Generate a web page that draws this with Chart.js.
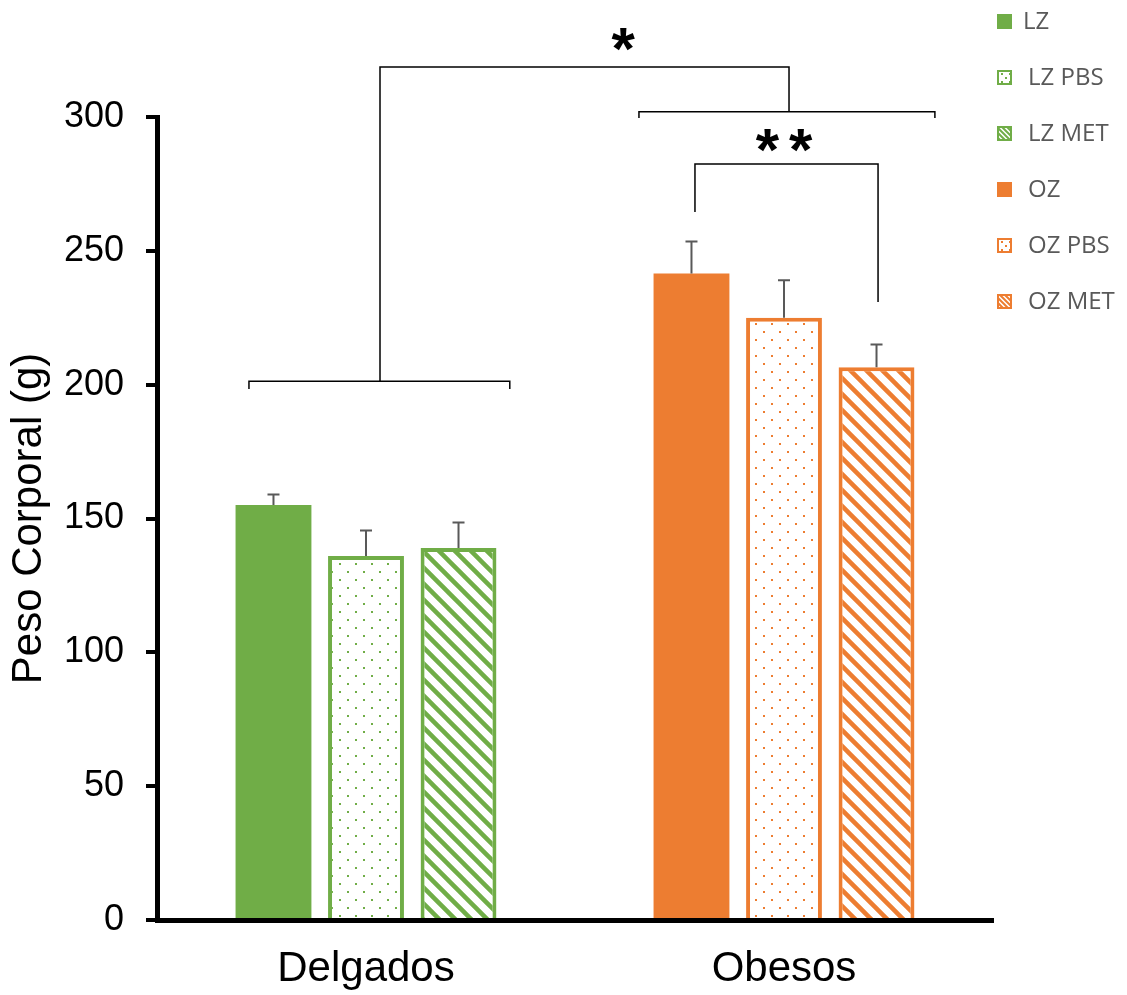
<!DOCTYPE html>
<html>
<head>
<meta charset="utf-8">
<script src="https://cdn.jsdelivr.net/npm/chart.js@4/dist/chart.umd.min.js"></script>
<style>
  html, body { margin: 0; padding: 0; background: #fff; }
  #wrap { width: 1127px; height: 995px; }
</style>
</head>
<body>
<div id="wrap"><canvas id="c" width="1127" height="995"></canvas></div>
<script>
// ---- data ----
const categories = ['Delgados', 'Obesos'];
const seriesNames = ['LZ', 'LZ PBS', 'LZ MET', 'OZ', 'OZ PBS', 'OZ MET'];
const seriesCategory = [0, 0, 0, 1, 1, 1];
const meanWeight = [155, 136, 139, 241.5, 225, 206.5];
const semWeight = [4, 9.5, 9.5, 12, 14, 8.5];
const yTickValues = [0, 50, 100, 150, 200, 250, 300];

// ---- styling ----
const GREEN = '#70AD47';
const ORANGE = '#ED7D31';
const seriesColor = [GREEN, GREEN, GREEN, ORANGE, ORANGE, ORANGE];
const seriesFill = ['solid', 'dots', 'stripes', 'solid', 'dots', 'stripes'];

function dotPattern(color, step) {
  const c = document.createElement('canvas');
  c.width = step; c.height = step;
  const g = c.getContext('2d');
  g.fillStyle = '#fff'; g.fillRect(0, 0, step, step);
  g.fillStyle = color;
  g.fillRect(step / 4 - 1, step / 4 - 1, 2, 2);
  g.fillRect(3 * step / 4 - 1, 3 * step / 4 - 1, 2, 2);
  return g.createPattern(c, 'repeat');
}

function stripePattern(color, step, width) {
  const c = document.createElement('canvas');
  c.width = step; c.height = step;
  const g = c.getContext('2d');
  g.fillStyle = '#fff'; g.fillRect(0, 0, step, step);
  g.strokeStyle = color; g.lineWidth = width;
  g.beginPath();
  for (const o of [-step, 0, step]) {
    g.moveTo(o - 2, -2);
    g.lineTo(o + step + 2, step + 2);
  }
  g.stroke();
  return g.createPattern(c, 'repeat');
}

function fillFor(i, small) {
  const col = seriesColor[i];
  if (seriesFill[i] === 'dots') return small ? dotPattern(col, 8) : dotPattern(col, 16);
  if (seriesFill[i] === 'stripes') return small ? stripePattern(col, 5, 2) : stripePattern(col, 16, 4.5);
  return col;
}

const datasets = seriesNames.map((name, i) => ({
  label: name,
  data: categories.map((_, k) => (k === seriesCategory[i] ? meanWeight[i] : null)),
  sem: semWeight[i],
  backgroundColor: fillFor(i, false),
  legendFill: fillFor(i, true),
  borderColor: seriesColor[i],
  borderWidth: seriesFill[i] === 'solid' ? 0 : 4,
  borderSkipped: 'start',
  skipNull: true,
  barPercentage: 0.82,
  categoryPercentage: 0.664
}));

// ---- significance annotations (x in category units, y in grams) ----
const groupBrackets = [
  { from: -0.28, to: 0.344, y: 201.3, drop: 2.9 },
  { from: 0.653, to: 1.361, y: 302, drop: 2.4 }
];
const connector = { x0: 0.0335, y0: 201.3, top: 318.7, x1: 1.012, y1: 302 };
const pairBracket = { from: 0.787, to: 1.225, y: 282.4, legFrom: 264.5, legTo: 230.9 };
const starLabels = [
  { text: '*', x: 0.615, y: 328.8 },
  { text: '**', x: 1.0, y: 291.1 }
];

const errorBars = {
  id: 'errorBars',
  afterDatasetsDraw(chart) {
    const ctx = chart.ctx;
    const ys = chart.scales.y;
    ctx.save();
    ctx.strokeStyle = '#595959';
    ctx.lineWidth = 2;
    chart.data.datasets.forEach((ds, i) => {
      const meta = chart.getDatasetMeta(i);
      meta.data.forEach((el, k) => {
        const v = ds.data[k];
        if (v === null || v === undefined) return;
        const yTop = ys.getPixelForValue(v + ds.sem);
        ctx.beginPath();
        ctx.moveTo(el.x, el.y);
        ctx.lineTo(el.x, yTop);
        ctx.moveTo(el.x - 6, yTop);
        ctx.lineTo(el.x + 6, yTop);
        ctx.stroke();
      });
    });
    ctx.restore();
  }
};

const significance = {
  id: 'significance',
  afterDraw(chart) {
    const ctx = chart.ctx;
    const xs = chart.scales.x, ys = chart.scales.y;
    const X = v => xs.getPixelForValue(v);
    const Y = v => ys.getPixelForValue(v);
    ctx.save();
    ctx.strokeStyle = '#000';
    ctx.lineWidth = 1.5;
    ctx.beginPath();
    groupBrackets.forEach(b => {
      ctx.moveTo(X(b.from), Y(b.y - b.drop));
      ctx.lineTo(X(b.from), Y(b.y));
      ctx.lineTo(X(b.to), Y(b.y));
      ctx.lineTo(X(b.to), Y(b.y - b.drop));
    });
    ctx.moveTo(X(connector.x0), Y(connector.y0));
    ctx.lineTo(X(connector.x0), Y(connector.top));
    ctx.lineTo(X(connector.x1), Y(connector.top));
    ctx.lineTo(X(connector.x1), Y(connector.y1));
    ctx.moveTo(X(pairBracket.from), Y(pairBracket.legFrom));
    ctx.lineTo(X(pairBracket.from), Y(pairBracket.y));
    ctx.lineTo(X(pairBracket.to), Y(pairBracket.y));
    ctx.lineTo(X(pairBracket.to), Y(pairBracket.legTo));
    ctx.stroke();

    ctx.fillStyle = '#000';
    ctx.font = 'bold 60px "Liberation Sans", Arial, sans-serif';
    ctx.textAlign = 'center';
    ctx.textBaseline = 'alphabetic';
    starLabels.forEach(s => {
      ctx.letterSpacing = s.text.length > 1 ? '10px' : '0px';
      const m = ctx.measureText(s.text);
      const cy = Y(s.y);
      const base = cy + (m.actualBoundingBoxAscent - m.actualBoundingBoxDescent) / 2;
      const shift = s.text.length > 1 ? 5 : 0;
      ctx.fillText(s.text, X(s.x) + shift, base);
    });
    ctx.restore();
  }
};

const sideLegend = {
  id: 'sideLegend',
  afterDraw(chart) {
    const ctx = chart.ctx;
    ctx.save();
    ctx.font = '24px "Open Sans", "Noto Sans", sans-serif';
    ctx.textBaseline = 'middle';
    ctx.textAlign = 'left';
    chart.data.datasets.forEach((ds, i) => {
      const cy = 21.5 + i * 56;
      const bx = 997, by = cy - 7.5, bs = 15;
      ctx.fillStyle = ds.legendFill;
      ctx.fillRect(bx, by, bs, bs);
      if (ds.borderWidth > 0) {
        ctx.strokeStyle = ds.borderColor;
        ctx.lineWidth = 2;
        ctx.strokeRect(bx + 1, by + 1, bs - 2, bs - 2);
      }
      ctx.fillStyle = '#595959';
      ctx.fillText(ds.label, i === 0 ? 1023 : 1028, cy + 1);
    });
    ctx.restore();
  }
};

new Chart(document.getElementById('c'), {
  type: 'bar',
  data: { labels: categories, datasets },
  options: {
    responsive: false,
    animation: false,
    devicePixelRatio: 1,
    layout: { padding: { top: 117, right: 134, left: 0, bottom: 0 } },
    plugins: {
      legend: { display: false },
      tooltip: { enabled: false }
    },
    scales: {
      x: {
        z: 1,
        grid: { display: false, drawTicks: false },
        border: { display: true, color: '#000', width: 5 },
        ticks: {
          color: '#000',
          padding: 24,
          font: { family: '"Liberation Sans", Arial, sans-serif', size: 42 }
        },
        afterFit: s => { s.height = 75; }
      },
      y: {
        min: 0,
        max: 300,
        afterBuildTicks: s => { s.ticks = yTickValues.map(v => ({ value: v })); },
        grid: { display: true, drawOnChartArea: false, drawTicks: true, tickLength: 11, color: '#000', lineWidth: 4 },
        border: { display: true, color: '#000', width: 5 },
        ticks: {
          color: '#000',
          padding: 22,
          font: { family: '"Liberation Sans", Arial, sans-serif', size: 36 }
        },
        title: {
          display: true,
          text: 'Peso Corporal (g)',
          color: '#000',
          padding: { top: 4, bottom: 0 },
          font: { family: '"Liberation Sans", Arial, sans-serif', size: 42 }
        },
        afterFit: s => { s.width = 157; }
      }
    }
  },
  plugins: [errorBars, significance, sideLegend]
});
</script>
</body>
</html>
